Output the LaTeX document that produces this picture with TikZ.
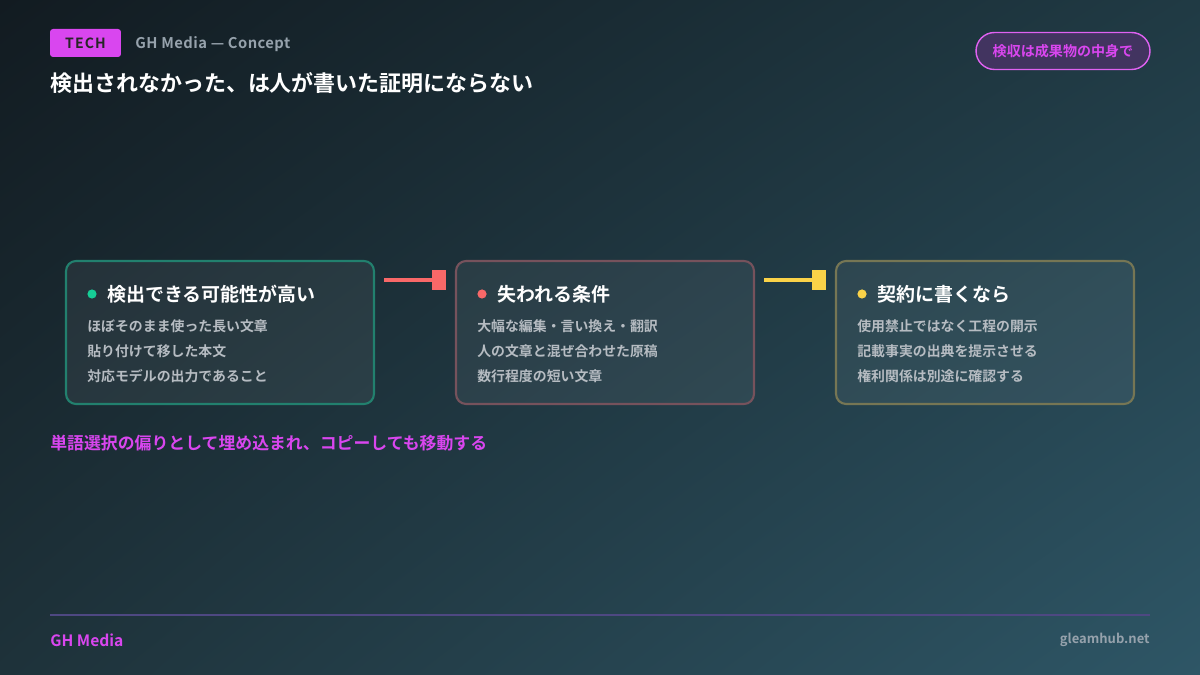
\documentclass[tikz,border=0pt]{standalone}
\usepackage{fontspec}
\setmainfont{Noto Sans CJK JP}[BoldFont={Noto Sans CJK JP Bold}]
\usetikzlibrary{arrows.meta,shadings}

\definecolor{bgul}{RGB}{18,27,33}
\definecolor{bgur}{RGB}{32,58,68}
\definecolor{bgll}{RGB}{30,50,58}
\definecolor{bglr}{RGB}{46,86,102}
\definecolor{magenta}{RGB}{217,70,239}
\definecolor{subgray}{RGB}{150,162,172}
\definecolor{itemgray}{RGB}{182,188,194}
\definecolor{tealdot}{RGB}{22,206,150}
\definecolor{reddot}{RGB}{248,104,104}
\definecolor{yellowdot}{RGB}{250,210,72}
\definecolor{tealline}{RGB}{34,128,110}
\definecolor{redline}{RGB}{118,82,92}
\definecolor{yellowline}{RGB}{118,118,84}
\definecolor{pillfill}{RGB}{66,52,96}
\definecolor{footline}{RGB}{78,72,130}

\tikzset{
  card/.style={draw=#1,line width=1.2pt,rounded corners=0.2cm,
    fill=white,fill opacity=0.06,draw opacity=1,text opacity=1,
    minimum width=5.96cm,minimum height=2.86cm},
  cardtitle/.style={anchor=west,text=white,font=\bfseries\fontsize{10.8}{12}\selectfont,inner sep=0pt},
  carditem/.style={anchor=west,text=itemgray,font=\bfseries\fontsize{7.9}{9}\selectfont,inner sep=0pt},
  link/.style={line width=2.3pt,draw=#1,-{Square[length=0.28cm,width=0.4cm]},
    shorten <=0.18cm,shorten >=0.18cm}
}

\begin{document}
\begin{tikzpicture}[x=0.02cm,y=-0.02cm]
    % --- background
    \shade[upper left=bgul,upper right=bgur,lower left=bgll,lower right=bglr]
      (0,0) rectangle (1200,675);
    \useasboundingbox (0,0) rectangle (1200,675);
    % --- header
    \node[fill=magenta,rounded corners=0.06cm,minimum width=1.42cm,minimum height=0.56cm,
      inner sep=0pt,text=black!85,font=\bfseries\fontsize{8}{9}\selectfont\addfontfeatures{LetterSpace=8}]
      (tech) at (85.5,43) {TECH};
    \node[anchor=west,text=subgray,font=\bfseries\fontsize{8.4}{10}\selectfont\addfontfeatures{LetterSpace=3},inner sep=0pt]
      (brand) at (135,44) {GH Media — Concept};
    \node[anchor=west,text=white,font=\bfseries\fontsize{12.5}{14}\selectfont,inner sep=0pt]
      (title) at (50,83) {検出されなかった、は人が書いた証明にならない};
    \node[draw=magenta!85,fill=pillfill,line width=0.8pt,rounded corners=0.37cm,
      minimum width=3.48cm,minimum height=0.74cm,inner sep=0pt,text=magenta,
      font=\bfseries\fontsize{8}{9}\selectfont] (pill) at (1063,51) {検収は成果物の中身で};
    % --- cards
    \node[card=tealline,minimum width=6.16cm] (detect) at (220,332.5) {};
    \node[card=redline] (lost) at (605,332.5) {};
    \node[card=yellowline] (contract) at (985,332.5) {};
    % card 1
    \fill[tealdot] (92,294) circle (4.6);
    \node[cardtitle] (t1) at (107,294) {検出できる可能性が高い};
    \node[carditem] (a1) at (87,326) {ほぼそのまま使った長い文章};
    \node[carditem] (a2) at (87,351) {貼り付けて移した本文};
    \node[carditem] (a3) at (87,376) {対応モデルの出力であること};
    % card 2
    \fill[reddot] (482,294) circle (4.6);
    \node[cardtitle] (t2) at (497,294) {失われる条件};
    \node[carditem] (b1) at (477,326) {大幅な編集・言い換え・翻訳};
    \node[carditem] (b2) at (477,351) {人の文章と混ぜ合わせた原稿};
    \node[carditem] (b3) at (477,376) {数行程度の短い文章};
    % card 3
    \fill[yellowdot] (862,294) circle (4.6);
    \node[cardtitle] (t3) at (877,294) {契約に書くなら};
    \node[carditem] (c1) at (857,326) {使用禁止ではなく工程の開示};
    \node[carditem] (c2) at (857,351) {記載事実の出典を提示させる};
    \node[carditem] (c3) at (857,376) {権利関係は別途に確認する};
    % --- links
    \draw[link=reddot] (detect.east |- 0,280) -- (lost.west |- 0,280);
    \draw[link=yellowdot] (lost.east |- 0,280) -- (contract.west |- 0,280);
    % --- note
    \node[anchor=west,text=magenta,font=\bfseries\fontsize{9.6}{11}\selectfont,inner sep=0pt]
      (note) at (50,443) {単語選択の偏りとして埋め込まれ、コピーしても移動する};
    % --- footer
    \coordinate (fl) at (50,615);
    \coordinate (fr) at (1150,615);
    \draw[footline,line width=0.6pt] (fl) -- (fr);
    \node[anchor=west,text=magenta,font=\bfseries\fontsize{8.9}{10}\selectfont,inner sep=0pt]
      (foot) at (50,640) {GH Media};
    \node[anchor=east,text=subgray,font=\bfseries\fontsize{7.4}{9}\selectfont,inner sep=0pt]
      (site) at (1150,640) {gleamhub.net};
  \end{tikzpicture}
\end{document}
